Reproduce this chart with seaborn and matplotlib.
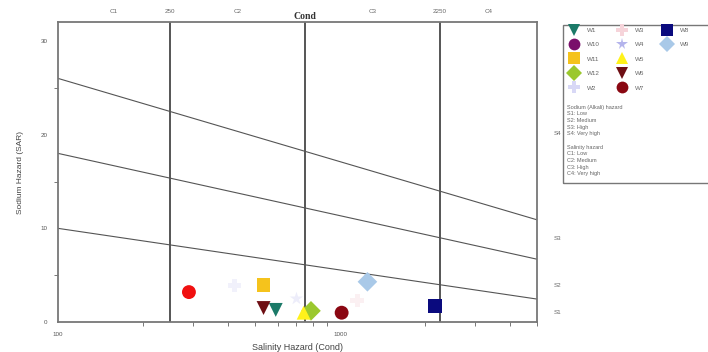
import matplotlib
matplotlib.use("Agg")
import matplotlib.pyplot as plt
from matplotlib.lines import Line2D
from matplotlib.patches import Rectangle
import numpy as np
import pandas as pd
import seaborn as sns

sns.set_theme(style="white")
plt.rcParams["font.family"] = ["Liberation Sans", "DejaVu Sans"]

# samples: conductivity (uS/cm) and SAR
wells = ["W1", "W10", "W11", "W12", "W2", "W3", "W4", "W5", "W6", "W7", "W8", "W9"]
cond = [591, 291, 535, 788, 422, 1150, 700, 742, 535, 1012, 2161, 1249]
sar = [1.3, 3.2, 4.0, 1.2, 3.9, 2.3, 2.5, 1.0, 1.5, 1.0, 1.7, 4.3]
colors = ["#1B7A68", "#F01010", "#F5C31C", "#9BC82E", "#F1F1FB", "#FBF0F2", "#EDEDFA",
          "#FFF21A", "#6E0F14", "#8A0712", "#0A0A7E", "#A9C9E8"]
legend_colors = ["#1B7A68", "#7A0F6B", "#F5C31C", "#9BC82E", "#D8D8F6", "#F6D4DA", "#B4B4EC",
                 "#FFF21A", "#6E0F14", "#8A0712", "#0A0A7E", "#A9C9E8"]
markers = ["v", "o", "s", "D", "P", "P", "*", "^", "v", "o", "s", "D"]

# USSL class boundaries: SAR at cond = 100 and cond = 5000
edge_cond = [100, 5000]
s1_s2 = [10.0, 2.45]
s2_s3 = [18.0, 6.7]
s3_s4 = [26.0, 10.9]
c_bounds = [250, 750, 2250]

top_labels = ["C1", "250", "C2", "C3", "2250", "C4"]
top_pos = [158, 250, 433, 1300, 2250, 3360]
s_labels = ["S1", "S2", "S3", "S4"]
s_pos = [1.0, 3.9, 8.9, 20.1]

df = pd.DataFrame({"well": wells, "cond": cond, "sar": sar})

fig = plt.figure(figsize=(7.08, 3.52), dpi=100)
ax = fig.add_axes([0.082, 0.085, 0.677, 0.852])
ax.set_xscale("log")

for s_line in (s1_s2, s2_s3, s3_s4):
    sns.lineplot(x=edge_cond, y=s_line, ax=ax, color="#555555", lw=0.8)
for c in c_bounds:
    ax.axvline(c, color="#555555", lw=1.4)

sns.scatterplot(data=df, x="cond", y="sar", hue="well", style="well",
                palette=dict(zip(wells, colors)), markers=dict(zip(wells, markers)),
                s=100, edgecolor="none", legend=False, ax=ax, zorder=3)

ax.set_xlim(100, 5000)
ax.set_ylim(0, 32)
ax.set_yticks([0, 10, 20, 30])
ax.set_yticks([5, 15, 25], minor=True)
ax.set_xticks([100, 1000])
ax.set_xticklabels(["100", "1000"])
ax.tick_params(axis="both", which="both", direction="out", labelsize=4.5,
               colors="#777777", labelcolor="#555555")
ax.tick_params(axis="both", which="major", length=4, width=0.8)
ax.tick_params(axis="both", which="minor", length=3, width=0.7, bottom=True, left=True)
ax.tick_params(axis="x", which="minor", labelbottom=False)
for sp in ax.spines.values():
    sp.set_color("#777777")
    sp.set_linewidth(1.3)

ax.set_xlabel("Salinity Hazard (Cond)", fontsize=6.5, color="#444444", labelpad=4)
ax.set_ylabel("Sodium Hazard (SAR)", fontsize=6, color="#444444", labelpad=12)

trans_top = ax.get_xaxis_transform()
for lab, x in zip(top_labels, top_pos):
    ax.text(x, 1.035, lab, transform=trans_top, ha="center", va="center",
            fontsize=4.5, color="#666666")
ax.text(750, 1.02, "Cond", transform=trans_top, ha="center", va="center",
        fontsize=7, fontweight="bold", color="#333333", family="Liberation Serif")

trans_right = ax.get_yaxis_transform()
for lab, y in zip(s_labels, s_pos):
    ax.text(1.042, y, lab, transform=trans_right, ha="center", va="center",
            fontsize=4.5, color="#666666")

# legend box
fig.patches.append(Rectangle((563 / 708, 1 - 183 / 352), 150 / 708, 158 / 352,
                             transform=fig.transFigure, fill=False,
                             edgecolor="#777777", lw=1.0))
handles = [Line2D([], [], ls="", marker=m, color=c, markersize=8.5, markeredgewidth=0)
           for m, c in zip(markers, legend_colors)]
labels = list(wells)
for _ in range(3):
    handles.append(Line2D([], [], ls="", marker=""))
    labels.append("")
fig.legend(handles, labels, loc="upper left", bbox_to_anchor=(563 / 708, 1 - 23 / 352),
           ncol=3, frameon=False, fontsize=4.5, labelcolor="#666666",
           handlelength=2.2, handletextpad=1.0, columnspacing=2.4,
           labelspacing=1.45, borderpad=0.2)

notes = ["Sodium (Alkali) hazard", "S1: Low", "S2: Medium", "S3: High", "S4: Very high"]
notes2 = ["Salinity hazard", "C1: Low", "C2: Medium", "C3: High", "C4: Very high"]
for i, t in enumerate(notes):
    fig.text(567 / 708, 1 - (107 + 6.7 * i) / 352, t, fontsize=4, color="#666666", va="center")
for i, t in enumerate(notes2):
    fig.text(567 / 708, 1 - (147 + 6.7 * i) / 352, t, fontsize=4, color="#666666", va="center")

fig.savefig("out.png", dpi=100)
